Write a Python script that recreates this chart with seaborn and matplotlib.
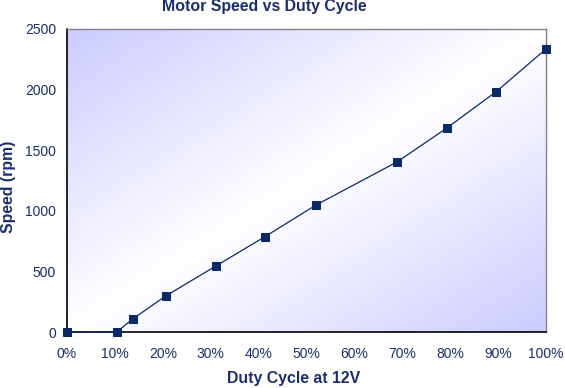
import numpy as np
import pandas as pd
import matplotlib
matplotlib.use("Agg")
import matplotlib.pyplot as plt
import seaborn as sns
from matplotlib.colors import LinearSegmentedColormap
from matplotlib.ticker import FuncFormatter

# duty cycle (%) and measured speed (rpm)
duty = [0, 10.4, 13.7, 20.6, 31.1, 41.3, 52.0, 68.9, 79.3, 89.6, 100]
speed = [0, 0, 107, 297, 545, 786, 1048, 1403, 1683, 1983, 2335]

x_ticks = list(range(0, 101, 10))
y_ticks = list(range(0, 2501, 500))

navy = "#0a2a66"
text_col = "#1a2f6b"

sns.set_style("white")
plt.rcParams["font.family"] = ["Liberation Sans", "DejaVu Sans"]

df = pd.DataFrame({"duty": duty, "speed": speed})

fig = plt.figure(figsize=(5.65, 3.88), dpi=100)
ax = fig.add_axes([67 / 565, 56 / 388, 479 / 565, 303 / 388])

# diagonal gradient background: lavender in top-left / bottom-right corners
u, v = np.meshgrid(np.linspace(0, 1, 300), np.linspace(1, 0, 200))
grad = np.abs(u - v)
cmap = LinearSegmentedColormap.from_list("bg", ["#ffffff", "#ccccff"])
ax.imshow(grad, cmap=cmap, extent=[0, 1, 0, 1], transform=ax.transAxes,
          aspect="auto", zorder=0, vmin=0, vmax=1)

sns.lineplot(data=df, x="duty", y="speed", ax=ax, color=navy, linewidth=0.9,
             marker="s", markersize=5.5, markeredgecolor=navy, zorder=6,
             clip_on=False)

ax.set_xlim(0, 100)
ax.set_ylim(0, 2500)
ax.set_xticks(x_ticks)
ax.set_yticks(y_ticks)
ax.xaxis.set_major_formatter(FuncFormatter(lambda val, pos: f"{val:.0f}%"))
ax.tick_params(axis="both", direction="out", length=5, width=1, color="black",
               labelsize=10, labelcolor=text_col, pad=3)
ax.tick_params(axis="x", pad=6)

for side in ["left", "bottom"]:
    ax.spines[side].set_color("black")
    ax.spines[side].set_linewidth(1.2)
for side in ["top", "right"]:
    ax.spines[side].set_color("#887f88")
    ax.spines[side].set_linewidth(1.0)
ax.spines[:].set_zorder(5)

ax.set_xlabel("")
ax.set_ylabel("")
fig.text(264 / 565, 1 - 7 / 388, "Motor Speed vs Duty Cycle", ha="center",
         va="center", fontsize=11.4, fontweight="bold", color=text_col)
fig.text(294 / 565, 1 - 379 / 388, "Duty Cycle at 12V", ha="center",
         va="center", fontsize=11.4, fontweight="bold", color=text_col)
fig.text(9 / 565, 1 - 187 / 388, "Speed (rpm)", ha="center", va="center",
         rotation=90, fontsize=11.4, fontweight="bold", color=text_col)

fig.savefig("out.png", dpi=100)
